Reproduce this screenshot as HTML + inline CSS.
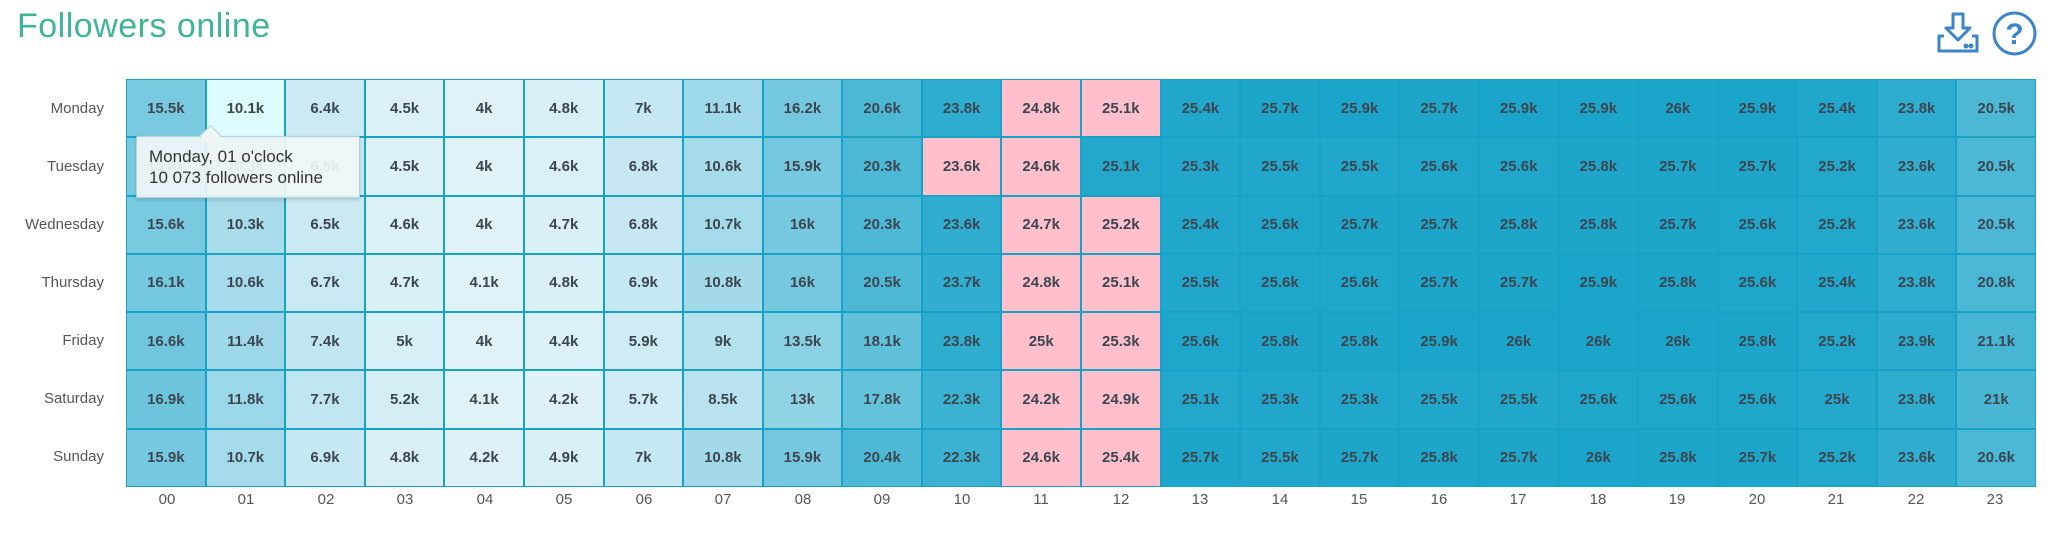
<!DOCTYPE html>
<html><head><meta charset="utf-8"><style>
body{margin:0;width:2048px;height:539px;background:#fff;font-family:"Liberation Sans",sans-serif;position:relative;overflow:hidden}
.t{position:absolute;left:17px;top:7px;font-size:34px;color:#3fb39b;letter-spacing:.5px}
.g{position:absolute;left:126px;top:79px;width:1910px;height:408px;background:#19a2c8;display:grid;grid-template-columns:repeat(24,1fr);grid-template-rows:repeat(7,1fr);gap:2px;padding:1px;box-sizing:border-box}
.g i{font-style:normal;display:flex;align-items:center;justify-content:center;font-weight:bold;font-size:15px;color:#3c4650;
background:rgb(calc(224 - (var(--v) - 4) * 8.95),calc(242 - (var(--v) - 4) * 3.5),calc(248 - (var(--v) - 4) * 2.1))}
.g i.p{background:#ffc0cb}
.g i.h{background:#dcfcfd}
.d{position:absolute;right:1944px;font-size:15px;color:#555;text-align:right}
.x{position:absolute;top:491px;font-size:15px;color:#555;width:80px;text-align:center}
.tip{position:absolute;left:136px;top:136px;width:224px;height:62px;background:rgba(240,246,248,.93);border:1px solid #b9d3da;box-shadow:0 2px 4px rgba(0,0,0,.15);font-size:17px;color:#333;line-height:21px;padding:9px 0 0 12px;box-sizing:border-box;border-radius:2px}
.tip:before{content:"";position:absolute;left:66px;top:-9px;width:14px;height:14px;background:#f0f6f8;border-left:1px solid #b9d3da;border-top:1px solid #b9d3da;transform:rotate(45deg)}
</style></head><body>
<div class="t">Followers online</div>
<svg style="position:absolute;left:1936px;top:12px" width="44" height="42" viewBox="0 0 44 42" fill="none" stroke="#3a86c8" stroke-width="3" stroke-linejoin="round"><path d="M17 2h10v14h7L22 28 10 16h7z"/><path d="M8 24H3v15h38V24h-5"/><circle cx="30" cy="34" r="1" fill="#3a86c8"/><circle cx="35" cy="34" r="1" fill="#3a86c8"/></svg>
<svg style="position:absolute;left:1992px;top:11px" width="45" height="45" viewBox="0 0 45 45"><circle cx="22.5" cy="22.5" r="20.5" fill="none" stroke="#3a86c8" stroke-width="3"/><text x="22.5" y="33" text-anchor="middle" font-family="Liberation Sans" font-weight="bold" font-size="30" fill="#3a86c8">?</text></svg>
<div class="d" style="top:100px">Monday</div>
<div class="d" style="top:158px">Tuesday</div>
<div class="d" style="top:216px">Wednesday</div>
<div class="d" style="top:274px">Thursday</div>
<div class="d" style="top:332px">Friday</div>
<div class="d" style="top:390px">Saturday</div>
<div class="d" style="top:448px">Sunday</div>
<div class="g">
<i style="--v:15.5">15.5k</i><i class="h" style="--v:10.1">10.1k</i><i style="--v:6.4">6.4k</i><i style="--v:4.5">4.5k</i><i style="--v:4">4k</i><i style="--v:4.8">4.8k</i><i style="--v:7">7k</i><i style="--v:11.1">11.1k</i><i style="--v:16.2">16.2k</i><i style="--v:20.6">20.6k</i><i style="--v:23.8">23.8k</i><i class="p" style="--v:24.8">24.8k</i><i class="p" style="--v:25.1">25.1k</i><i style="--v:25.4">25.4k</i><i style="--v:25.7">25.7k</i><i style="--v:25.9">25.9k</i><i style="--v:25.7">25.7k</i><i style="--v:25.9">25.9k</i><i style="--v:25.9">25.9k</i><i style="--v:26">26k</i><i style="--v:25.9">25.9k</i><i style="--v:25.4">25.4k</i><i style="--v:23.8">23.8k</i><i style="--v:20.5">20.5k</i>
<i style="--v:15.6">15.6k</i><i style="--v:10.3">10.3k</i><i style="--v:6.5">6.5k</i><i style="--v:4.5">4.5k</i><i style="--v:4">4k</i><i style="--v:4.6">4.6k</i><i style="--v:6.8">6.8k</i><i style="--v:10.6">10.6k</i><i style="--v:15.9">15.9k</i><i style="--v:20.3">20.3k</i><i class="p" style="--v:23.6">23.6k</i><i class="p" style="--v:24.6">24.6k</i><i style="--v:25.1">25.1k</i><i style="--v:25.3">25.3k</i><i style="--v:25.5">25.5k</i><i style="--v:25.5">25.5k</i><i style="--v:25.6">25.6k</i><i style="--v:25.6">25.6k</i><i style="--v:25.8">25.8k</i><i style="--v:25.7">25.7k</i><i style="--v:25.7">25.7k</i><i style="--v:25.2">25.2k</i><i style="--v:23.6">23.6k</i><i style="--v:20.5">20.5k</i>
<i style="--v:15.6">15.6k</i><i style="--v:10.3">10.3k</i><i style="--v:6.5">6.5k</i><i style="--v:4.6">4.6k</i><i style="--v:4">4k</i><i style="--v:4.7">4.7k</i><i style="--v:6.8">6.8k</i><i style="--v:10.7">10.7k</i><i style="--v:16">16k</i><i style="--v:20.3">20.3k</i><i style="--v:23.6">23.6k</i><i class="p" style="--v:24.7">24.7k</i><i class="p" style="--v:25.2">25.2k</i><i style="--v:25.4">25.4k</i><i style="--v:25.6">25.6k</i><i style="--v:25.7">25.7k</i><i style="--v:25.7">25.7k</i><i style="--v:25.8">25.8k</i><i style="--v:25.8">25.8k</i><i style="--v:25.7">25.7k</i><i style="--v:25.6">25.6k</i><i style="--v:25.2">25.2k</i><i style="--v:23.6">23.6k</i><i style="--v:20.5">20.5k</i>
<i style="--v:16.1">16.1k</i><i style="--v:10.6">10.6k</i><i style="--v:6.7">6.7k</i><i style="--v:4.7">4.7k</i><i style="--v:4.1">4.1k</i><i style="--v:4.8">4.8k</i><i style="--v:6.9">6.9k</i><i style="--v:10.8">10.8k</i><i style="--v:16">16k</i><i style="--v:20.5">20.5k</i><i style="--v:23.7">23.7k</i><i class="p" style="--v:24.8">24.8k</i><i class="p" style="--v:25.1">25.1k</i><i style="--v:25.5">25.5k</i><i style="--v:25.6">25.6k</i><i style="--v:25.6">25.6k</i><i style="--v:25.7">25.7k</i><i style="--v:25.7">25.7k</i><i style="--v:25.9">25.9k</i><i style="--v:25.8">25.8k</i><i style="--v:25.6">25.6k</i><i style="--v:25.4">25.4k</i><i style="--v:23.8">23.8k</i><i style="--v:20.8">20.8k</i>
<i style="--v:16.6">16.6k</i><i style="--v:11.4">11.4k</i><i style="--v:7.4">7.4k</i><i style="--v:5">5k</i><i style="--v:4">4k</i><i style="--v:4.4">4.4k</i><i style="--v:5.9">5.9k</i><i style="--v:9">9k</i><i style="--v:13.5">13.5k</i><i style="--v:18.1">18.1k</i><i style="--v:23.8">23.8k</i><i class="p" style="--v:25">25k</i><i class="p" style="--v:25.3">25.3k</i><i style="--v:25.6">25.6k</i><i style="--v:25.8">25.8k</i><i style="--v:25.8">25.8k</i><i style="--v:25.9">25.9k</i><i style="--v:26">26k</i><i style="--v:26">26k</i><i style="--v:26">26k</i><i style="--v:25.8">25.8k</i><i style="--v:25.2">25.2k</i><i style="--v:23.9">23.9k</i><i style="--v:21.1">21.1k</i>
<i style="--v:16.9">16.9k</i><i style="--v:11.8">11.8k</i><i style="--v:7.7">7.7k</i><i style="--v:5.2">5.2k</i><i style="--v:4.1">4.1k</i><i style="--v:4.2">4.2k</i><i style="--v:5.7">5.7k</i><i style="--v:8.5">8.5k</i><i style="--v:13">13k</i><i style="--v:17.8">17.8k</i><i style="--v:22.3">22.3k</i><i class="p" style="--v:24.2">24.2k</i><i class="p" style="--v:24.9">24.9k</i><i style="--v:25.1">25.1k</i><i style="--v:25.3">25.3k</i><i style="--v:25.3">25.3k</i><i style="--v:25.5">25.5k</i><i style="--v:25.5">25.5k</i><i style="--v:25.6">25.6k</i><i style="--v:25.6">25.6k</i><i style="--v:25.6">25.6k</i><i style="--v:25">25k</i><i style="--v:23.8">23.8k</i><i style="--v:21">21k</i>
<i style="--v:15.9">15.9k</i><i style="--v:10.7">10.7k</i><i style="--v:6.9">6.9k</i><i style="--v:4.8">4.8k</i><i style="--v:4.2">4.2k</i><i style="--v:4.9">4.9k</i><i style="--v:7">7k</i><i style="--v:10.8">10.8k</i><i style="--v:15.9">15.9k</i><i style="--v:20.4">20.4k</i><i style="--v:22.3">22.3k</i><i class="p" style="--v:24.6">24.6k</i><i class="p" style="--v:25.4">25.4k</i><i style="--v:25.7">25.7k</i><i style="--v:25.5">25.5k</i><i style="--v:25.7">25.7k</i><i style="--v:25.8">25.8k</i><i style="--v:25.7">25.7k</i><i style="--v:26">26k</i><i style="--v:25.8">25.8k</i><i style="--v:25.7">25.7k</i><i style="--v:25.2">25.2k</i><i style="--v:23.6">23.6k</i><i style="--v:20.6">20.6k</i>
</div>
<div class="x" style="left:127px">00</div><div class="x" style="left:206px">01</div><div class="x" style="left:286px">02</div><div class="x" style="left:365px">03</div><div class="x" style="left:445px">04</div><div class="x" style="left:524px">05</div><div class="x" style="left:604px">06</div><div class="x" style="left:683px">07</div><div class="x" style="left:763px">08</div><div class="x" style="left:842px">09</div><div class="x" style="left:922px">10</div><div class="x" style="left:1001px">11</div><div class="x" style="left:1081px">12</div><div class="x" style="left:1160px">13</div><div class="x" style="left:1240px">14</div><div class="x" style="left:1319px">15</div><div class="x" style="left:1399px">16</div><div class="x" style="left:1478px">17</div><div class="x" style="left:1558px">18</div><div class="x" style="left:1637px">19</div><div class="x" style="left:1717px">20</div><div class="x" style="left:1796px">21</div><div class="x" style="left:1876px">22</div><div class="x" style="left:1955px">23</div>
<div class="tip">Monday, 01 o'clock<br>10 073 followers online</div>
</body></html>
